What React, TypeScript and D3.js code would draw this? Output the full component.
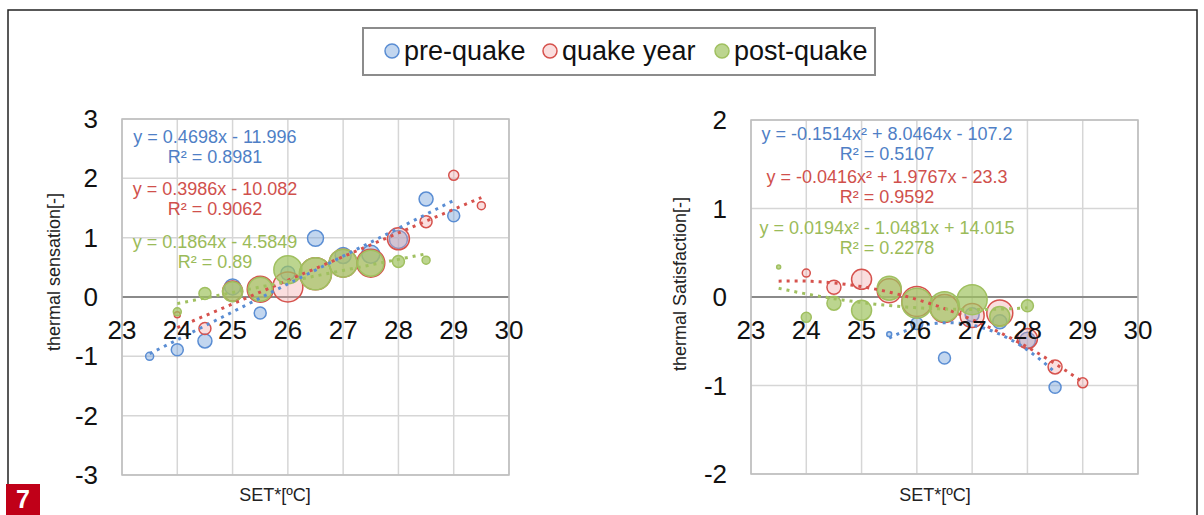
import React from "react";
import * as d3 from "d3";

// categories / ticks
const xTicks = [23, 24, 25, 26, 27, 28, 29, 30];
const sensTicks = [-3, -2, -1, 0, 1, 2, 3];
const satTicks = [-2, -1, 0, 1, 2];
const seriesNames = ["pre-quake", "quake year", "post-quake"];

// thermal sensation (left)
const sensPreX = [23.5, 24, 24.5, 25, 25.5, 26, 26.5, 27, 27.5, 28, 28.5, 29];
const sensPreY = [-1.0, -0.89, -0.74, 0.17, -0.27, 0.4, 0.99, 0.7, 0.72, 0.97, 1.65, 1.37];
const sensPreN = [16, 36, 49, 64, 36, 49, 64, 64, 81, 81, 49, 36];
const sensQuakeX = [24, 24.5, 25, 25.5, 26, 26.5, 27, 27.5, 28, 28.5, 29, 29.5];
const sensQuakeY = [-0.3, -0.53, 0.1, 0.13, 0.17, 0.39, 0.57, 0.57, 0.98, 1.27, 2.05, 1.54];
const sensQuakeN = [9, 36, 100, 169, 225, 256, 196, 196, 121, 36, 25, 16];
const sensPostX = [24, 24.5, 25, 25.5, 26, 26.5, 27, 27.5, 28, 28.5];
const sensPostY = [-0.25, 0.06, 0.09, 0.13, 0.46, 0.39, 0.57, 0.57, 0.6, 0.62];
const sensPostN = [16, 36, 100, 144, 196, 256, 196, 169, 36, 16];

// thermal satisfaction (right)
const satPreX = [25.5, 26, 26.5, 27, 27.5, 28, 28.5];
const satPreY = [-0.42, -0.3, -0.69, -0.2, -0.28, -0.49, -1.02];
const satPreN = [6, 36, 36, 49, 49, 64, 36];
const satQuakeX = [24, 24.5, 25, 25.5, 26, 26.5, 27, 27.5, 28, 28.5, 29];
const satQuakeY = [0.27, 0.11, 0.2, 0.07, -0.05, -0.13, -0.21, -0.18, -0.47, -0.79, -0.97];
const satQuakeN = [16, 49, 100, 144, 225, 196, 144, 169, 100, 49, 25];
const satPostX = [23.5, 24, 24.5, 25, 25.5, 26, 26.5, 27, 27.5, 28];
const satPostY = [0.34, -0.23, -0.07, -0.15, 0.1, -0.07, -0.11, -0.03, -0.22, -0.1];
const satPostN = [4, 25, 49, 100, 144, 225, 225, 225, 100, 36];

// trendlines: a*x^2 + b*x + c over [from, to]
const sensCoef = [[0, 0.4698, -11.996], [0, 0.3986, -10.082], [0, 0.1864, -4.5849]];
const sensRange = [[23.5, 29], [24, 29.5], [24, 28.5]];
const sensEq = ["y = 0.4698x - 11.996", "y = 0.3986x - 10.082", "y = 0.1864x - 4.5849"];
const sensR2 = ["R² = 0.8981", "R² = 0.9062", "R² = 0.89"];
const satCoef = [[-0.1514, 8.0464, -107.2], [-0.0416, 1.9767, -23.3], [0.0194, -1.0481, 14.015]];
const satRange = [[25.5, 28.5], [23.5, 29], [23.5, 28]];
const satEq = ["y = -0.1514x² + 8.0464x - 107.2", "y = -0.0416x² + 1.9767x - 23.3", "y = 0.0194x² - 1.0481x + 14.015"];
const satR2 = ["R² = 0.5107", "R² = 0.9592", "R² = 0.2278"];

const stroke = ["#5a8dd3", "#d6524d", "#a0c060"];
const fill = ["rgba(120,165,220,0.45)", "rgba(240,160,160,0.35)", "rgba(160,195,95,0.7)"];
const textCol = ["#4f7fc6", "#d0504c", "#9bbb59"];
const font = "'Liberation Sans', Arial, sans-serif";

const rScale = d3.scaleSqrt().domain([0, 289]).range([0, 17]);

function Panel({ x0, x1, y0, y1, yDom, yTicks, series, coef, range, eq, r2, eqX, eqY, title, titleX, titleY, setX }) {
  const x = d3.scaleLinear().domain([23, 30]).range([x0, x1]);
  const y = d3.scaleLinear().domain(yDom).range([y1, y0]);
  return (
    <g fontFamily={font}>
      {xTicks.map((t) => (
        <line key={"vx" + t} x1={x(t)} x2={x(t)} y1={y0} y2={y1} stroke="#d6d6d6" strokeWidth={1.5} />
      ))}
      {yTicks.map((t) => (
        <line key={"hy" + t} x1={x0} x2={x1} y1={y(t)} y2={y(t)} stroke={t === 0 ? "#8a8a8a" : "#d6d6d6"} strokeWidth={t === 0 ? 2 : 1.5} />
      ))}
      <rect x={x0} y={y0} width={x1 - x0} height={y1 - y0} fill="none" stroke="#bdbdbd" strokeWidth={1.5} />
      {series.map((s, si) =>
        s.x.map((xv, i) => (
          <circle key={si + "-" + i} cx={x(xv)} cy={y(s.y[i])} r={rScale(s.n[i])} fill={fill[si]} stroke={stroke[si]} strokeWidth={1.5} />
        ))
      )}
      {coef.map((c, si) => {
        const pts = d3.range(range[si][0], range[si][1] + 0.001, 0.05);
        const line = d3.line<number>().x((v) => x(v)).y((v) => y(c[0] * v * v + c[1] * v + c[2]));
        return <path key={"t" + si} d={line(pts) || ""} fill="none" stroke={stroke[si]} strokeWidth={3} strokeDasharray="3 5" />;
      })}
      {xTicks.map((t) => (
        <text key={"xl" + t} x={x(t)} y={y(0) + 42} textAnchor="middle" fontSize={26} fill="#111">{t}</text>
      ))}
      {yTicks.map((t) => (
        <text key={"yl" + t} x={x0 - 24} y={y(t)} dy="0.35em" textAnchor="end" fontSize={26} fill="#111">{t}</text>
      ))}
      {eq.map((e, si) => (
        <g key={"eq" + si} fill={textCol[si]} fontSize={18} textAnchor="middle">
          <text x={eqX} y={eqY[si]} dy="0.35em">{e}</text>
          <text x={eqX} y={eqY[si] + 20} dy="0.35em">{r2[si]}</text>
        </g>
      ))}
      <text transform={`translate(${titleX},${titleY}) rotate(-90)`} textAnchor="middle" fontSize={18} fill="#222">{title}</text>
      <text x={setX} y={501} textAnchor="middle" fontSize={18} fill="#222">SET*[ºC]</text>
    </g>
  );
}

export default function App() {
  const sensSeries = [
    { x: sensPreX, y: sensPreY, n: sensPreN },
    { x: sensQuakeX, y: sensQuakeY, n: sensQuakeN },
    { x: sensPostX, y: sensPostY, n: sensPostN },
  ];
  const satSeries = [
    { x: satPreX, y: satPreY, n: satPreN },
    { x: satQuakeX, y: satQuakeY, n: satQuakeN },
    { x: satPostX, y: satPostY, n: satPostN },
  ];
  const legendX = [392, 550, 722];
  return (
    <svg width={1204} height={515} style={{ position: "absolute", left: 0, top: 0, background: "#fff" }}>
      <rect x={8} y={10} width={1189} height={520} fill="#fff" stroke="#222" strokeWidth={1.5} />
      <rect x={363} y={28} width={512} height={47} fill="#fff" stroke="#8c8c8c" strokeWidth={2} />
      {seriesNames.map((nm, i) => (
        <g key={nm}>
          <circle cx={legendX[i]} cy={51} r={7} fill={fill[i]} stroke={stroke[i]} strokeWidth={1.5} />
          <text x={legendX[i] + 12} y={51} dy="0.35em" fontSize={27} fontFamily={font} fill="#111">{nm}</text>
        </g>
      ))}
      <Panel x0={122} x1={509} y0={119} y1={475} yDom={[-3, 3]} yTicks={sensTicks} series={sensSeries}
        coef={sensCoef} range={sensRange} eq={sensEq} r2={sensR2} eqX={215} eqY={[137, 189, 242]}
        title="thermal sensation[-]" titleX={60} titleY={272} setX={275} />
      <Panel x0={751} x1={1138} y0={120} y1={474} yDom={[-2, 2]} yTicks={satTicks} series={satSeries}
        coef={satCoef} range={satRange} eq={satEq} r2={satR2} eqX={887} eqY={[134, 177, 228]}
        title="thermal Satisfaction[-]" titleX={686} titleY={284} setX={935} />
      <rect x={6} y={484} width={34} height={31} fill="#c00018" />
      <text x={23} y={508} textAnchor="middle" fontSize={25} fontWeight="bold" fontFamily={font} fill="#fff">7</text>
    </svg>
  );
}
